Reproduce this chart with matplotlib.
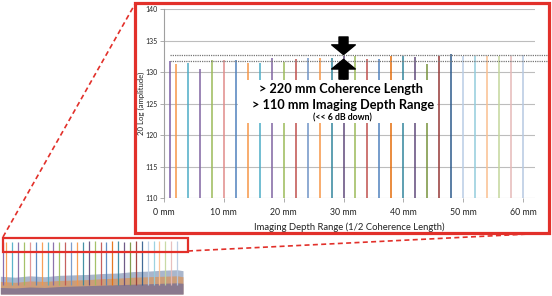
import numpy as np
import matplotlib
matplotlib.use("Agg")
import matplotlib.pyplot as plt
from matplotlib.patches import Rectangle, FancyArrowPatch
from matplotlib.lines import Line2D

plt.rcParams['font.family'] = ['Lato', 'DejaVu Sans']

# spike positions (mm) and peak levels (dB)
depth_mm = [1, 2, 4, 6, 8, 10, 12, 14, 16, 18, 20, 22, 24, 26, 28, 30,
            32, 34, 36, 38, 40, 42, 44, 46, 48, 50, 52, 54, 56, 58, 60]
peak_db = [131.8, 131.3, 131.4, 130.5, 132.0, 132.0, 132.0, 131.5, 131.5, 132.2,
           131.6, 132.1, 132.2, 132.3, 132.2, 132.5, 132.5, 132.1, 132.1, 132.6,
           132.6, 132.4, 131.3, 132.5, 132.9, 132.6, 132.5, 132.5, 132.5, 132.5, 132.8]
spike_colors = ['#7b5ea7', '#f79646', '#4bacc6', '#8064a2', '#9bbb59', '#e08c8a',
                '#4f81bd', '#f79646', '#4bacc6', '#8064a2', '#9bbb59', '#c0504d',
                '#6f93c6', '#f79646', '#31859c', '#5f497a', '#9bbb59', '#c0504d',
                '#4f81bd', '#e46c0a', '#31859c', '#5f497a', '#76923c', '#953735',
                '#2c5a8c', '#b9cde5', '#93cddd', '#fac090', '#c3d69b', '#e6b9b8', '#b7c9e2']

yticks = [110, 115, 120, 125, 130, 135, 140]
xticks = [0, 10, 20, 30, 40, 50, 60]
xtick_labels = ['0 mm', '10 mm', '20 mm', '30 mm', '40 mm', '50 mm', '60 mm']

upper_ref_db = 132.8
lower_ref_db = 131.8

# noise floor of the overview thumbnail (envelopes, dB)
noise_x = [0, 5, 10, 15, 20, 25, 30, 35, 40, 45, 50, 55, 60, 62]
noise_top = [58, 56, 59, 57, 60, 61, 62, 64, 65, 68, 69, 71, 72, 70]
noise_mid = [47, 45, 48, 47, 49, 50, 51, 53, 54, 56, 57, 58, 59, 57]
noise_low = [34, 33, 35, 34, 36, 37, 38, 39, 40, 41, 42, 43, 44, 43]

W, H = 552, 296
fig = plt.figure(figsize=(W / 100, H / 100), dpi=100)
fig.patch.set_facecolor('white')
red = '#e2302a'


def fx(x):
    return x / W


def fy(y):
    return 1 - y / H


# --- overview thumbnail (bottom left) ---
tax = fig.add_axes([fx(0.4), fy(294), fx(182.6), (294 - 238) / H])
tax.fill_between(noise_x, 20, noise_top, color='#a9b6cc', lw=0)
tax.fill_between(noise_x, 20, noise_mid, color='#d9955e', lw=0, alpha=0.75)
tax.fill_between(noise_x, 20, noise_low, color='#6f6a98', lw=0, alpha=0.7)
tax.vlines(depth_mm, 40, peak_db, colors=spike_colors, lw=0.9, alpha=0.9)
tax.set_xlim(0, 62)
tax.set_ylim(20, 140)
tax.axis('off')

# --- zoomed chart inside red frame ---
ax = fig.add_axes([fx(164), fy(198), fx(535 - 164), (198 - 9.3) / H])
ax.set_xlim(0, 62)
ax.set_ylim(110, 140)
ax.set_yticks(yticks)
ax.set_xticks(xticks)
ax.set_xticklabels(xtick_labels)
ax.grid(axis='y', color='#bdbdbd', lw=0.8)
ax.set_axisbelow(True)
for s in ['top', 'right', 'bottom']:
    ax.spines[s].set_visible(False)
ax.spines['left'].set_color('#a0a0a0')
ax.spines['left'].set_linewidth(0.8)
ax.tick_params(axis='both', colors='#a0a0a0', length=3, width=0.6, labelcolor='#222222')
ax.tick_params(axis='y', labelsize=5, pad=1.5)
ax.tick_params(axis='x', labelsize=6.3, pad=4)
ax.set_ylabel('20 Log (amplitude)', fontsize=5.6, color='#222222', va='center')
ax.yaxis.set_label_coords(-0.06, 0.5)
ax.set_xlabel('Imaging Depth Range (1/2 Coherence Length)', fontsize=6.8,
              color='#222222', labelpad=4)

ax.vlines(depth_mm, 0, peak_db, colors=spike_colors, lw=1.1, zorder=2)

# dotted reference lines (run out past the plot edge)
x_end = 64.0
for lvl in [upper_ref_db, lower_ref_db]:
    ax.plot([depth_mm[0], x_end], [lvl, lvl], color='#777777', lw=0.9,
            ls=(0, (1, 0.8)), clip_on=False, zorder=3)

# white box with the annotation text
ax.add_patch(Rectangle((12.4, 121.95), 33.3, 6.85, facecolor='white',
                       edgecolor='none', zorder=4))
ax.text(29.5, 127.35, '> 220 mm Coherence Length', ha='center', va='center',
        fontsize=9.2, fontweight='bold', color='black', zorder=5)
ax.text(29.9, 124.8, '> 110 mm Imaging Depth Range', ha='center', va='center',
        fontsize=9.2, fontweight='bold', color='black', zorder=5)
ax.text(29.8, 122.75, '(<< 6 dB down)', ha='center', va='center',
        fontsize=6.3, fontweight='bold', color='black', zorder=5)

# arrows squeezing the two reference levels
style = 'simple,head_width=17,head_length=7,tail_width=6.5'
ax.add_patch(FancyArrowPatch((30, 135.6), (30, upper_ref_db), arrowstyle=style,
                             mutation_scale=1, shrinkA=0, shrinkB=0,
                             color='black', zorder=6))
ax.add_patch(FancyArrowPatch((30, 128.9), (30, lower_ref_db + 0.25), arrowstyle=style,
                             mutation_scale=1, shrinkA=0, shrinkB=0,
                             color='black', zorder=6))

# --- frames and connector lines in pixel positions ---
fig.add_artist(Rectangle((fx(135), fy(233)), fx(549 - 135), (233 - 3) / H,
                         transform=fig.transFigure, fill=False, edgecolor=red, lw=2.3))
fig.add_artist(Rectangle((fx(2.5), fy(252)), fx(188 - 2.5), (252 - 238) / H,
                         transform=fig.transFigure, fill=False, edgecolor=red, lw=1.6))
fig.add_artist(Line2D([fx(3), fx(135)], [fy(237), fy(4)], transform=fig.transFigure,
                      color=red, lw=1.2, dashes=(3, 2)))
fig.add_artist(Line2D([fx(188), fx(549)], [fy(251), fy(233)], transform=fig.transFigure,
                      color=red, lw=1.2, dashes=(3, 2)))

fig.savefig('out.png', dpi=100)
